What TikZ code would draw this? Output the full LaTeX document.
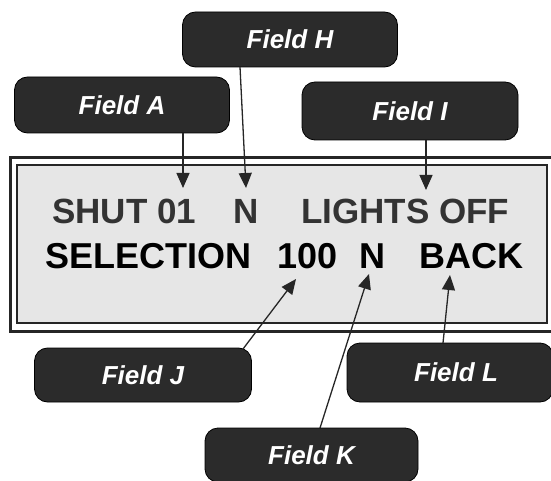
\documentclass[tikz,border=0pt]{standalone}
\usepackage{fontspec}
\setmainfont{Liberation Sans}
\usetikzlibrary{arrows.meta}
\definecolor{boxfill}{HTML}{2B2B2B}
\definecolor{lcdfill}{HTML}{E6E6E6}
\definecolor{rowone}{HTML}{333333}
\tikzset{
  field/.style={draw=black, fill=boxfill, rounded corners=13pt, line width=0.8pt,
    text=white, inner sep=0pt,
    font=\fontsize{26}{26}\selectfont\bfseries\itshape},
  lcdone/.style={anchor=base west, inner sep=0pt, text=rowone,
    font=\fontsize{35}{35}\selectfont\bfseries},
  lcdtwo/.style={anchor=base west, inner sep=0pt, text=black,
    font=\fontsize{36}{36}\selectfont\bfseries},
  arr/.style={draw=black!85, line width=1.3pt,
    -{Triangle[length=15pt,width=13pt]}},
}
\begin{document}
\begin{tikzpicture}[x=1pt,y=-1pt]
\useasboundingbox (0,0) rectangle (551,481);
\clip (0,0) rectangle (551,481);
\fill[white] (0,0) rectangle (551,481);
% LCD panel
\draw[line width=3pt, black!85] (10,158) rectangle (552,331);
\draw[line width=1.8pt, black!85, fill=lcdfill] (17,165) rectangle (547,323);
% display text
\node[lcdone] (s1) at (52,223) {SHUT 01};
\node[lcdone] (n1) at (233,223) {N};
\node[lcdone] (l1) at (301,223) {LIGHTS OFF};
\node[lcdtwo] (s2) at (45,268) {SELECTION};
\node[lcdtwo] (h2) at (277,268) {100};
\node[lcdtwo] (n2) at (359,268) {N};
\node[lcdtwo] (b2) at (419,268) {BACK};
% callout boxes
\node[field, minimum width=215pt, minimum height=56pt] (A) at (122,105) {Field A};
\node[field, minimum width=215pt, minimum height=55pt] (H) at (290,39.5) {Field H};
\node[field, minimum width=216pt, minimum height=58pt] (I) at (410,111) {Field I};
\node[field, minimum width=217pt, minimum height=54pt] (J) at (143,375) {Field J};
\node[field, minimum width=206pt, minimum height=59pt] (L) at (450,372.5) {\hspace*{12pt}Field L};
\node[field, minimum width=213pt, minimum height=54pt] (K) at (311.5,455) {Field K};
% connector coordinates
\coordinate (tA) at (183,188);
\coordinate (sH) at (240,67);
\coordinate (tH) at (246,188);
\coordinate (tI) at (426,190);
\coordinate (sJ) at (243,349);
\coordinate (tJ) at (296,279);
\coordinate (sK) at (320,428);
\coordinate (tK) at (369,274);
\coordinate (sL) at (443,343);
\coordinate (tL) at (450,275);
% connectors
\draw[arr] (tA |- A.south) -- (tA);
\draw[arr] (sH) -- (tH);
\draw[arr] (tI |- I.south) -- (tI);
\draw[arr] (sJ) -- (tJ);
\draw[arr] (sK) -- (tK);
\draw[arr] (sL) -- (tL);
\end{tikzpicture}
\end{document}
